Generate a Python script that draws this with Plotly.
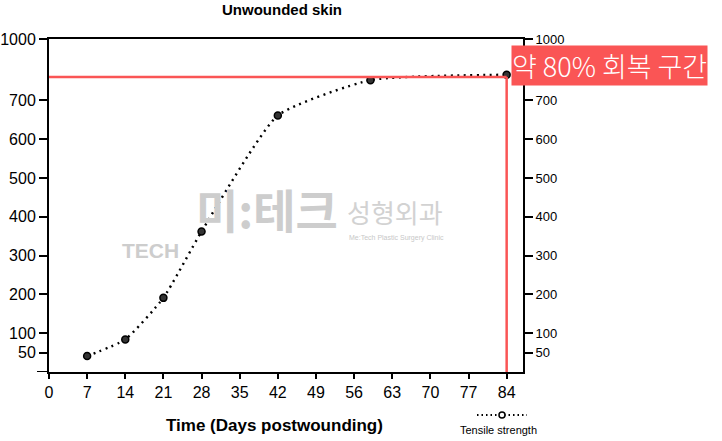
import plotly.graph_objects as go

# ---- data ----
days = [7, 14, 21, 28, 42, 59, 84]
tensile_strength = [41, 84, 191, 362, 661, 752, 766]
x_ticks = [0, 7, 14, 21, 28, 35, 42, 49, 56, 63, 70, 77, 84]
y_tickvals = [50, 100, 200, 300, 400, 500, 600, 700, 858]
y_ticktext = ["50", "100", "200", "300", "400", "500", "600", "700", "1000"]
recovery_level = 760
recovery_day = 84
title_text = "Unwounded skin"
x_title = "Time (Days postwounding)"
legend_text = "Tensile strength"
callout_text = "약 80% 회복 구간"

RED = "rgb(250,85,85)"
FONT = "Liberation Sans, Arial, sans-serif"
W, H = 722, 441
L, R, T, B = 49, 199, 39, 69
PW, PH = W - L - R, H - T - B

def px_x(px):
    return (px - L) / PW

def px_y(py):
    return (H - B - py) / PH

fig = go.Figure()
fig.add_trace(go.Scatter(
    x=days, y=tensile_strength, mode="lines+markers",
    line=dict(color="black", width=2.4, dash="2px,4.5px", shape="spline", smoothing=0.5),
    marker=dict(size=7, color="#333", line=dict(color="black", width=1.5)),
    showlegend=False, hoverinfo="x+y"))
fig.add_trace(go.Scatter(
    x=days, y=tensile_strength, yaxis="y2", mode="lines",
    line=dict(width=0), opacity=0, showlegend=False, hoverinfo="skip"))

fig.update_layout(
    width=W, height=H,
    margin=dict(l=L, r=R, t=T, b=B, pad=0, autoexpand=False),
    paper_bgcolor="white", plot_bgcolor="white",
    font=dict(family=FONT, color="black"),
    xaxis=dict(range=[0, 87], tickvals=x_ticks, ticks="outside", ticklen=5,
               tickwidth=1.5, tickcolor="black", showline=True, linecolor="black",
               linewidth=2, mirror=True, showgrid=False, zeroline=False,
               automargin=False, tickfont=dict(size=16, family=FONT)),
    yaxis=dict(range=[0, 858], tickvals=y_tickvals, ticktext=y_ticktext,
               ticks="outside", ticklen=8, tickwidth=1.5, tickcolor="black",
               showline=True, linecolor="black", linewidth=2, showgrid=False,
               zeroline=False, automargin=False, tickfont=dict(size=16, family=FONT)),
    yaxis2=dict(range=[0, 858], overlaying="y", side="right",
                tickvals=y_tickvals, ticktext=y_ticktext, ticks="outside",
                ticklen=8, tickwidth=1.5, tickcolor="black", showline=True,
                linecolor="black", linewidth=2, showgrid=False, zeroline=False,
                automargin=False, tickfont=dict(size=13, family=FONT)),
)

shapes = [
    # x-axis line stub extending left of the y-axis
    dict(type="line", xref="paper", yref="y", x0=px_x(37), x1=0, y0=0, y1=0,
         line=dict(color="black", width=2)),
    # red recovery guide lines
    dict(type="line", xref="x", yref="y", x0=0, x1=recovery_day,
         y0=recovery_level, y1=recovery_level, line=dict(color=RED, width=2.5)),
    dict(type="line", xref="x", yref="y", x0=recovery_day, x1=recovery_day,
         y0=0, y1=recovery_level, line=dict(color=RED, width=2.5)),
    # legend sample
    dict(type="line", xref="paper", yref="paper", x0=px_x(477), x1=px_x(527),
         y0=px_y(415), y1=px_y(415), line=dict(color="black", width=1.8, dash="1.5px,3px")),
    dict(type="circle", xref="paper", yref="paper", xsizemode="pixel", ysizemode="pixel",
         xanchor=px_x(502), yanchor=px_y(415), x0=-3, x1=3, y0=-3, y1=3,
         line=dict(color="black", width=1.5), fillcolor="white"),
]
fig.update_layout(shapes=shapes)

annotations = [
    dict(text="<b>%s</b>" % title_text, xref="paper", yref="paper",
         x=px_x(282), y=px_y(9), showarrow=False, xanchor="center", yanchor="middle",
         font=dict(size=15, family=FONT, color="black")),
    dict(text="<b>%s</b>" % x_title, xref="paper", yref="paper",
         x=px_x(274), y=px_y(425), showarrow=False, xanchor="center", yanchor="middle",
         font=dict(size=17, family=FONT, color="black")),
    dict(text=legend_text, xref="paper", yref="paper",
         x=px_x(498), y=px_y(430), showarrow=False, xanchor="center", yanchor="middle",
         font=dict(size=11, family=FONT, color="black")),
    dict(text=callout_text, xref="paper", yref="paper",
         x=px_x(511), y=px_y(65), showarrow=False, xanchor="left", yanchor="middle",
         bgcolor=RED, borderpad=0,
         font=dict(size=27, family="Noto Sans CJK KR, Noto Sans", color="white", weight=300)),
    # watermark
    dict(text="<b>미:테크</b>", xref="paper", yref="paper",
         x=px_x(267), y=px_y(208), showarrow=False, xanchor="center", yanchor="middle",
         font=dict(size=46, family="Noto Sans CJK KR", color="rgb(205,205,205)")),
    dict(text="성형외과", xref="paper", yref="paper",
         x=px_x(395), y=px_y(212), showarrow=False, xanchor="center", yanchor="middle",
         font=dict(size=26, family="Noto Sans CJK KR", color="rgb(210,210,210)")),
    dict(text="Me:Tech Plastic Surgery Clinic", xref="paper", yref="paper",
         x=px_x(396), y=px_y(238), showarrow=False, xanchor="center", yanchor="middle",
         font=dict(size=7, family=FONT, color="rgb(200,200,200)")),
    dict(text="<b>TECH</b>", xref="paper", yref="paper",
         x=px_x(150), y=px_y(250), showarrow=False, xanchor="center", yanchor="middle",
         font=dict(size=21, family=FONT, color="rgb(205,205,205)")),
]
fig.update_layout(annotations=annotations)

fig.write_html("out.html", config={"displayModeBar": False},
               post_script="document.body.style.margin='0';document.body.style.overflow='hidden';")
